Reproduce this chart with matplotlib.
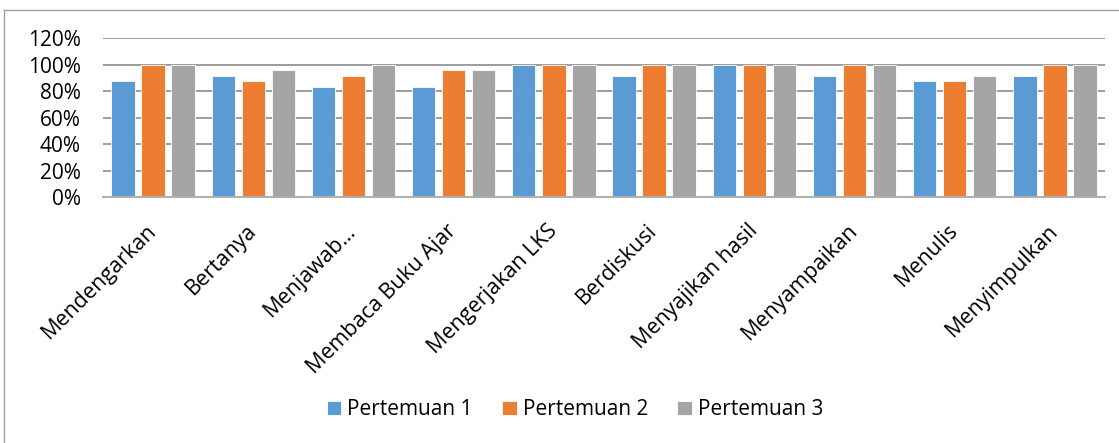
"""Grouped bar chart of student activity percentages across three meetings."""
import matplotlib.pyplot as plt
import numpy as np
from matplotlib.lines import Line2D
from matplotlib.ticker import PercentFormatter

plt.rcParams["font.family"] = ["Open Sans", "DejaVu Sans"]

categories = ["Mendengarkan", "Bertanya", "Menjawab…", "Membaca Buku Ajar",
              "Mengerjakan LKS", "Berdiskusi", "Menyajikan hasil",
              "Menyampaikan", "Menulis", "Menyimpulkan"]
pertemuan_1 = [87.5, 91.7, 83.3, 83.3, 100, 91.7, 100, 91.7, 87.5, 91.7]
pertemuan_2 = [100, 87.5, 91.7, 95.8, 100, 100, 100, 100, 87.5, 100]
pertemuan_3 = [100, 95.8, 100, 95.8, 100, 100, 100, 100, 91.7, 100]

series = [("Pertemuan 1", pertemuan_1, "#5B9BD5"),
          ("Pertemuan 2", pertemuan_2, "#ED7D31"),
          ("Pertemuan 3", pertemuan_3, "#A5A5A5")]

fig = plt.figure(figsize=(11.19, 4.43), dpi=100)
ax = fig.add_axes([0.092, 0.5553, 0.8955, 0.3589])

x = np.arange(len(categories))
width = 0.233
step = 0.3
for i, (name, vals, color) in enumerate(series):
    ax.bar(x + (i - 1) * step, np.array(vals) / 100, width, color=color,
           edgecolor="white", linewidth=0.6, label=name, zorder=3)

ax.set_xlim(-0.5, len(categories) - 0.5)
ax.set_ylim(0, 1.2)
ax.set_yticks(np.arange(0, 1.21, 0.2))
ax.yaxis.set_major_formatter(PercentFormatter(1.0, decimals=0))
ax.grid(axis="y", color="#8c8c8c", linewidth=1.2, zorder=0)
for side in ("top", "right", "left"):
    ax.spines[side].set_visible(False)
ax.spines["bottom"].set_color("#b0b0b0")
ax.spines["bottom"].set_linewidth(1.5)
ax.spines["bottom"].set_zorder(4)

ax.tick_params(axis="y", length=0, pad=16, labelsize=15)
ax.tick_params(axis="x", length=0, pad=22, labelsize=15.5)
ax.set_xticks(x)
ax.set_xticklabels(categories, rotation=45, ha="right", va="center",
                   rotation_mode="anchor")

handles, labels = ax.get_legend_handles_labels()
fig.legend(handles, labels, loc="center", bbox_to_anchor=(0.514, 0.0745),
           ncol=3, frameon=False, fontsize=15, handlelength=0.7,
           handleheight=0.7, handletextpad=0.3, columnspacing=1.4)

# chart frame
fig.add_artist(Line2D([4 / 1119, 4 / 1119], [0, 1 - 10 / 443],
                      transform=fig.transFigure, color="#a0a0a0", linewidth=1))
fig.add_artist(Line2D([4 / 1119, 1], [1 - 10 / 443, 1 - 10 / 443],
                      transform=fig.transFigure, color="#a0a0a0", linewidth=1))

fig.savefig("out.png", dpi=100)
